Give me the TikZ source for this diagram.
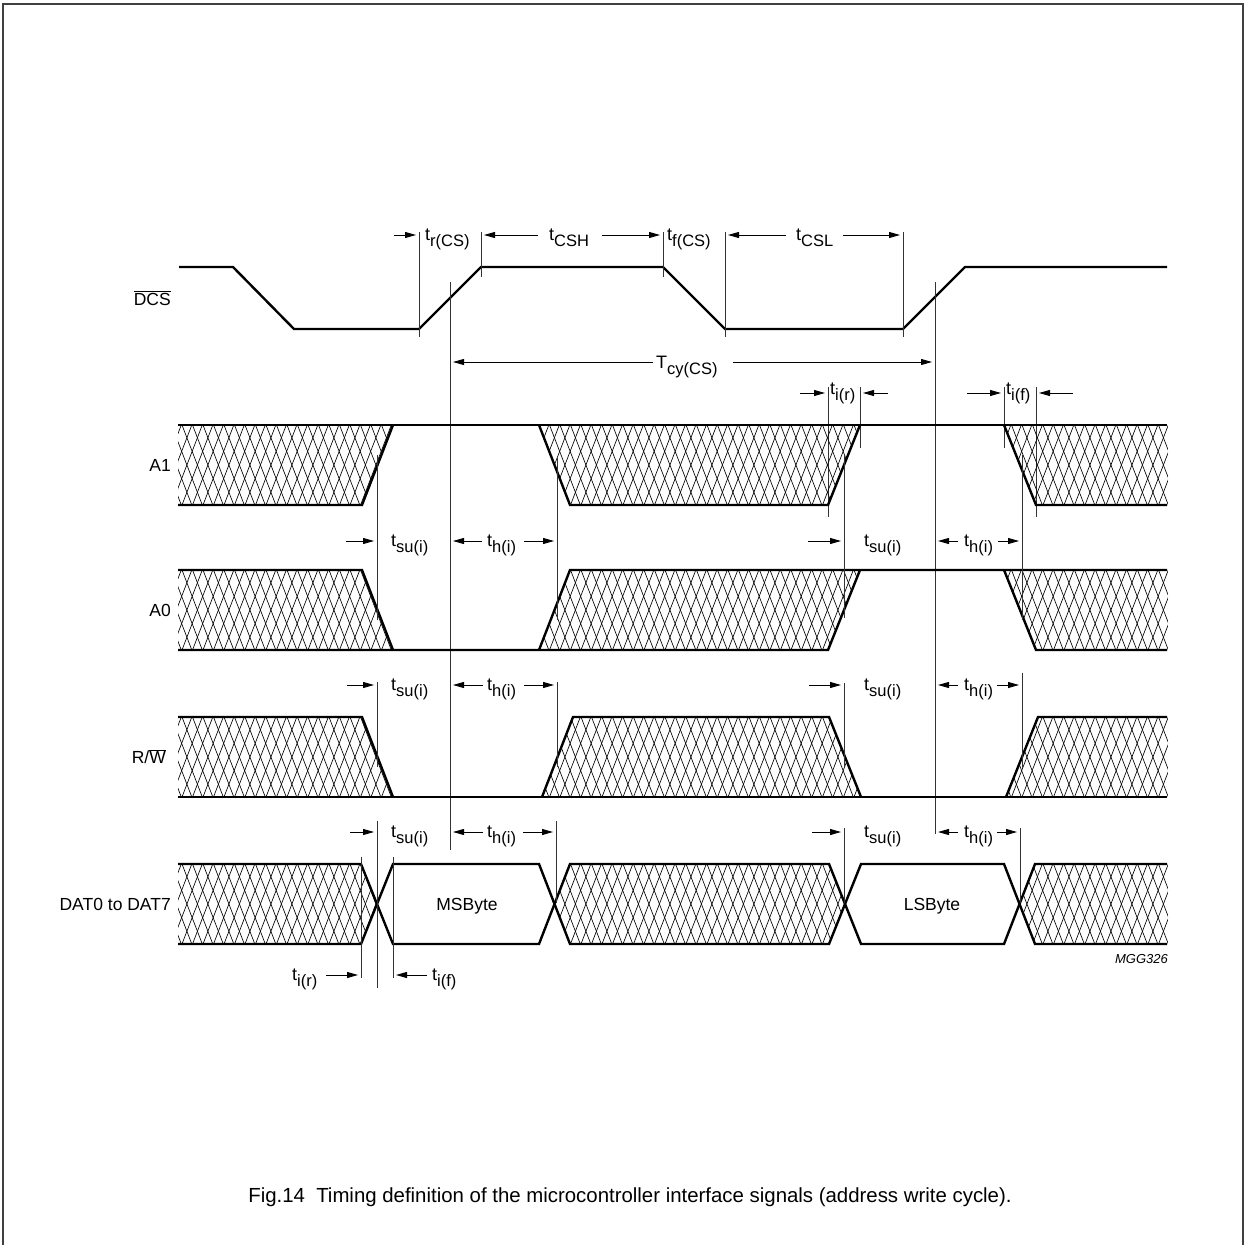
\documentclass[tikz,border=0pt]{standalone}
\usepackage{fontspec}
\setmainfont{Liberation Sans}
\usetikzlibrary{arrows.meta}
\newcommand{\TS}[2]{{\fontsize{18}{19}\selectfont #1}\raisebox{-6pt}{\fontsize{16.5}{17}\selectfont #2}}
\newcommand{\hatchband}[2]{%
  \foreach \xx in {0,...,100}{%
    \draw[hatchl] ({140+\xx*10.5},#1) -- ++(30.8,80);
    \draw[hatchl] ({140+\xx*10.5},#2) -- ++(30.8,-80);
  }}
\begin{document}
\begin{tikzpicture}[x=1pt,y=-1pt,
  sig/.style={line width=2.4pt, line join=miter, line cap=butt},
  guide/.style={line width=0.9pt, black!80},
  hatchl/.style={line width=0.65pt, black},
  dimarr/.style={line width=0.9pt, -{Triangle[length=11pt,width=6pt]}},
  lab/.style={font=\fontsize{17.5}{19}\selectfont, inner sep=0pt},
  signame/.style={font=\fontsize{17.5}{19}\selectfont, inner sep=0pt, anchor=east}]
\useasboundingbox (0,0) rectangle (1246,1244);
% frame
\draw[line width=1.6pt, black!75] (3,1260) -- (3,4) -- (1243,4) -- (1243,1260);

% ---------- signal names
\node[signame] (nDCS) at (171,298) {$\overline{\mbox{DCS}}$};
\node[signame] (nA1) at (171,465) {A1};
\node[signame] (nA0) at (171,610) {A0};
\node[signame] (nRW) at (166,757) {R/$\overline{\mbox{W}}$};
\node[signame] (nDAT) at (171,904) {DAT0 to DAT7};

% ---------- DCS
\draw[sig] (179,267) -- (233,267) -- (294,329) -- (419,329) -- (481,267) -- (663,267) -- (725,329) -- (903,329) -- (965,267) -- (1167,267);
\draw[guide] (419,232) -- (419,337);
\draw[guide] (481,232) -- (481,277);
\draw[guide] (663,232) -- (663,277);
\draw[guide] (725,232) -- (725,337);
\draw[guide] (903,232) -- (903,337);
\draw[guide] (450,282) -- (450,850);
\draw[guide] (935,282) -- (935,834);

% top timing labels
\draw[dimarr] (394,235) -- (416,235);
\node[lab, anchor=base west] (trcs) at (425,240) {\TS{t}{r(CS)}};
\draw[dimarr] (538,235) -- (484,235);
\node[lab, anchor=base west] (tcsh) at (549,240) {\TS{t}{CSH}};
\draw[dimarr] (602,235) -- (660,235);
\node[lab, anchor=base west] (tfcs) at (667,240) {\TS{t}{f(CS)}};
\draw[dimarr] (786,235) -- (728,235);
\node[lab, anchor=base west] (tcsl) at (796,240) {\TS{t}{CSL}};
\draw[dimarr] (843,235) -- (900,235);

% Tcy
\draw[dimarr] (653,362) -- (453,362);
\node[lab, anchor=base west] (tcy) at (656,368) {\TS{T}{cy(CS)}};
\draw[dimarr] (733,362) -- (932,362);

% ti(r), ti(f) top
\draw[guide] (828,387) -- (828,517);
\draw[guide] (860,387) -- (860,448);
\draw[guide] (1004,387) -- (1004,448);
\draw[guide] (1036,387) -- (1036,517);
\draw[dimarr] (800,393) -- (825,393);
\node[lab, anchor=base west] (tir1) at (830,394) {\TS{t}{i(r)}};
\draw[dimarr] (888,393) -- (863,393);
\draw[dimarr] (967,393) -- (1001,393);
\node[lab, anchor=base west] (tif1) at (1006,394) {\TS{t}{i(f)}};
\draw[dimarr] (1073,393) -- (1039,393);

% ---------- A1
\begin{scope}
\clip (178,425) -- (393,425) -- (362,505) -- (178,505) -- cycle
      (539,425) -- (860,425) -- (828,505) -- (570,505) -- cycle
      (1004,425) -- (1168,425) -- (1168,505) -- (1036,505) -- cycle;
\hatchband{425}{505}
\end{scope}
\draw[sig] (178,425) -- (1167,425);
\draw[sig] (178,505) -- (362,505) -- (393,425);
\draw[sig] (539,425) -- (570,505) -- (828,505) -- (860,425);
\draw[sig] (1004,425) -- (1036,505) -- (1167,505);

% ---------- A0
\begin{scope}
\clip (178,570) -- (362,570) -- (393,650) -- (178,650) -- cycle
      (570,570) -- (860,570) -- (828,650) -- (539,650) -- cycle
      (1004,570) -- (1168,570) -- (1168,650) -- (1036,650) -- cycle;
\hatchband{570}{650}
\end{scope}
\draw[sig] (178,570) -- (362,570) -- (393,650);
\draw[sig] (539,650) -- (570,570) -- (1167,570);
\draw[sig] (178,650) -- (828,650) -- (860,570);
\draw[sig] (1004,570) -- (1036,650) -- (1167,650);

% A1/A0 annotations
\draw[guide] (377,455) -- (377,620);
\draw[guide] (557,458) -- (557,620);
\draw[guide] (844,455) -- (844,618);
\draw[guide] (1022,455) -- (1022,620);
\draw[dimarr] (346,541) -- (374,541);
\node[lab, anchor=base west] (tsu1) at (391,546) {\TS{t}{su(i)}};
\draw[dimarr] (482,541) -- (453,541);
\node[lab, anchor=base west] (th1) at (487,546) {\TS{t}{h(i)}};
\draw[dimarr] (524,541) -- (554,541);
\draw[dimarr] (808,541) -- (841,541);
\node[lab, anchor=base west] (tsu2) at (864,546) {\TS{t}{su(i)}};
\draw[dimarr] (958,541) -- (938,541);
\node[lab, anchor=base west] (th2) at (964,546) {\TS{t}{h(i)}};
\draw[dimarr] (998,541) -- (1019,541);

% ---------- R/W
\begin{scope}
\clip (178,717) -- (362,717) -- (393,797) -- (178,797) -- cycle
      (573,717) -- (829,717) -- (861,797) -- (542,797) -- cycle
      (1038,717) -- (1168,717) -- (1168,797) -- (1006,797) -- cycle;
\hatchband{717}{797}
\end{scope}
\draw[sig] (178,797) -- (1167,797);
\draw[sig] (178,717) -- (362,717) -- (393,797);
\draw[sig] (542,797) -- (573,717) -- (829,717) -- (861,797);
\draw[sig] (1006,797) -- (1038,717) -- (1167,717);

\draw[guide] (377,682) -- (377,767);
\draw[guide] (557,682) -- (557,767);
\draw[guide] (844,683) -- (844,767);
\draw[guide] (1022,673) -- (1022,768);
\draw[dimarr] (347,685) -- (374,685);
\node[lab, anchor=base west] (tsu3) at (391,690) {\TS{t}{su(i)}};
\draw[dimarr] (483,685) -- (453,685);
\node[lab, anchor=base west] (th3) at (487,690) {\TS{t}{h(i)}};
\draw[dimarr] (524,685) -- (554,685);
\draw[dimarr] (809,685) -- (841,685);
\node[lab, anchor=base west] (tsu4) at (864,690) {\TS{t}{su(i)}};
\draw[dimarr] (958,685) -- (938,685);
\node[lab, anchor=base west] (th4) at (964,690) {\TS{t}{h(i)}};
\draw[dimarr] (997,685) -- (1019,685);

% ---------- DAT
\begin{scope}
\clip (178,864) -- (361,864) -- (377,904) -- (361,944) -- (178,944) -- cycle
      (570,864) -- (829,864) -- (845,904) -- (829,944) -- (570,944) -- (555,904) -- cycle
      (1035,864) -- (1168,864) -- (1168,944) -- (1035,944) -- (1019,904) -- cycle;
\hatchband{864}{944}
\end{scope}
\draw[sig] (178,864) -- (361,864) -- (393,944) -- (539,944) -- (570,864) -- (829,864) -- (861,944) -- (1004,944) -- (1035,864) -- (1167,864);
\draw[sig] (178,944) -- (361,944) -- (393,864) -- (539,864) -- (570,944) -- (829,944) -- (861,864) -- (1004,864) -- (1035,944) -- (1167,944);
\node[lab] (msb) at (467,906) {MSByte};
\node[lab] (lsb) at (932,906) {LSByte};

\draw[guide] (377,821) -- (377,988);
\draw[guide] (361,857) -- (361,978);
\draw[guide] (393,857) -- (393,978);
\draw[guide] (556,821) -- (556,903);
\draw[guide] (844,828) -- (844,903);
\draw[guide] (1020,828) -- (1020,903);
\draw[dimarr] (350,832) -- (374,832);
\node[lab, anchor=base west] (tsu5) at (391,837) {\TS{t}{su(i)}};
\draw[dimarr] (483,832) -- (453,832);
\node[lab, anchor=base west] (th5) at (487,837) {\TS{t}{h(i)}};
\draw[dimarr] (523,832) -- (553,832);
\draw[dimarr] (812,832) -- (841,832);
\node[lab, anchor=base west] (tsu6) at (864,837) {\TS{t}{su(i)}};
\draw[dimarr] (958,832) -- (938,832);
\node[lab, anchor=base west] (th6) at (964,837) {\TS{t}{h(i)}};
\draw[dimarr] (997,832) -- (1017,832);

% bottom ti(r), ti(f)
\node[lab, anchor=base west] (tir2) at (292,980) {\TS{t}{i(r)}};
\draw[dimarr] (326,975) -- (358,975);
\draw[dimarr] (427,975) -- (396,975);
\node[lab, anchor=base west] (tif2) at (432,980) {\TS{t}{i(f)}};

\node[inner sep=0pt, anchor=east, font=\fontsize{13}{14}\selectfont\itshape] (mgg) at (1168,959) {MGG326};

% caption
\node[inner sep=0pt, font=\fontsize{20.4}{22}\selectfont] (cap) at (630,1197) {Fig.14\hspace{0.55em}Timing definition of the microcontroller interface signals (address write cycle).};
\end{tikzpicture}
\end{document}
